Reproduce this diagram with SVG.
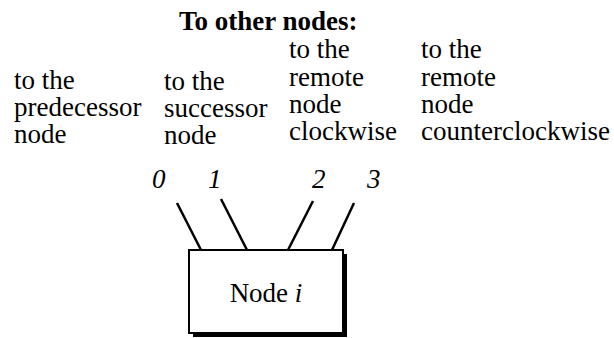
<svg xmlns="http://www.w3.org/2000/svg" width="614" height="338" viewBox="0 0 614 338">
<style>
text{font-family:"Liberation Serif","Times New Roman",serif;font-size:27px;fill:#000}
.b{font-weight:bold}
.i{font-style:italic}
.ln{stroke:#000;stroke-width:2.5;fill:none}
</style>
<rect width="614" height="338" fill="#fff"/>
<g id="labels">
<text class="b" x="179" y="30">To other nodes:</text>
<text x="14" y="89">to the</text>
<text x="14" y="116">predecessor</text>
<text x="14" y="143">node</text>
<text x="164" y="90">to the</text>
<text x="164" y="117">successor</text>
<text x="164" y="144">node</text>
<text x="289" y="58">to the</text>
<text x="289" y="86">remote</text>
<text x="289" y="113">node</text>
<text x="289" y="140">clockwise</text>
<text x="421" y="58">to the</text>
<text x="421" y="86">remote</text>
<text x="421" y="113">node</text>
<text x="421" y="140">counterclockwise</text>
</g>
<g id="connectors">
<line class="ln" x1="177" y1="203" x2="201" y2="250"/>
<line class="ln" x1="221" y1="199" x2="247" y2="250"/>
<line class="ln" x1="313" y1="201" x2="288" y2="250"/>
<line class="ln" x1="354" y1="203" x2="332" y2="250"/>
<text class="i" x="152" y="188">0</text>
<text class="i" x="208" y="188">1</text>
<text class="i" x="312" y="188">2</text>
<text class="i" x="367" y="188">3</text>
</g>
<g id="node-i">
<rect x="193" y="254" width="154" height="83" fill="#000"/>
<rect x="189" y="250" width="154" height="83" fill="#fff" stroke="#000" stroke-width="2"/>
<text x="266" y="302" text-anchor="middle">Node <tspan class="i">i</tspan></text>
</g>
</svg>
